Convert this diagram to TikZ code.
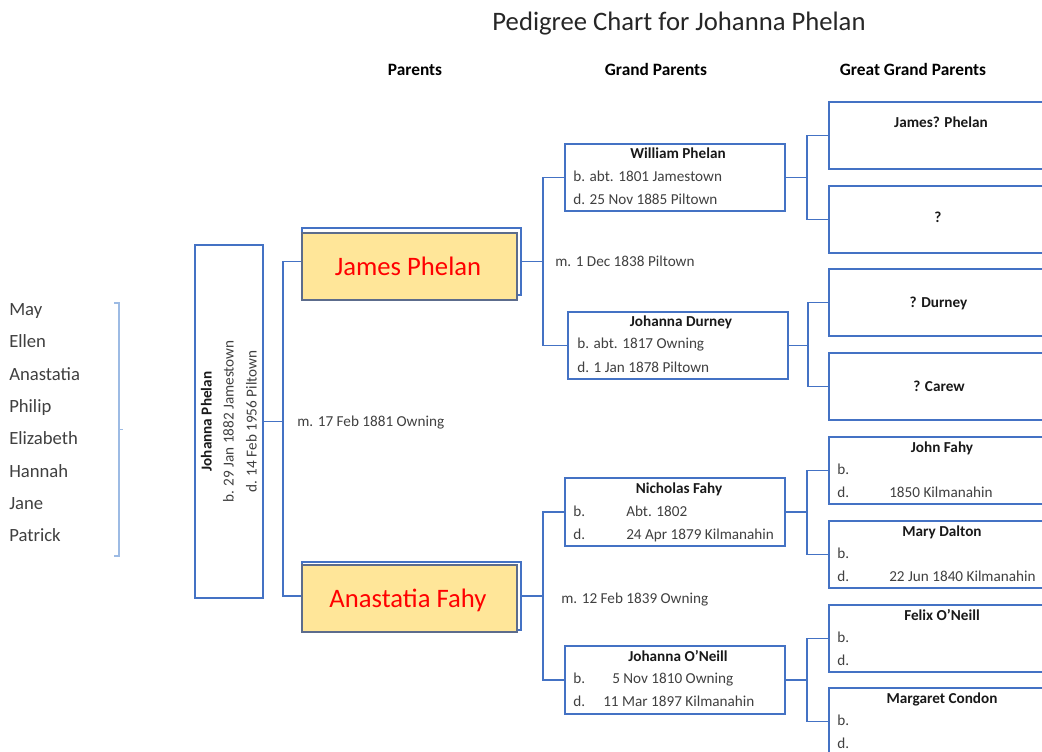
\documentclass[tikz,border=0pt]{standalone}
\usepackage{fontspec}
\setmainfont{Carlito}
\usepackage{tikz}
\usetikzlibrary{fit,positioning}
\definecolor{chartblue}{RGB}{68,114,196}
\definecolor{braceblue}{RGB}{157,187,228}
\definecolor{cardgold}{RGB}{255,230,153}
\definecolor{cardedge}{RGB}{92,108,140}
\definecolor{txtgray}{RGB}{64,64,64}

\begin{document}
\begin{tikzpicture}
  [x=0.75pt,y=-0.75pt,
    every node/.style={inner sep=0pt,text=txtgray,font=\fontsize{11.4}{13}\selectfont,
                       text height=6.8pt,text depth=0pt},
    line/.style={draw=chartblue,line width=1.1pt},
    box/.style={rectangle,draw=chartblue,line width=1.1pt},
    card/.style={rectangle,draw=cardedge,fill=cardgold,line width=1.1pt},
    who/.style={text=black!90,font=\fontsize{11.4}{13}\selectfont\bfseries},
    head/.style={text=black,font=\fontsize{13}{15}\selectfont\bfseries,text height=7.8pt},
    sibling/.style={anchor=west,font=\fontsize{14}{16}\selectfont,text height=8.4pt},
    redname/.style={text=red,font=\fontsize{20}{24}\selectfont,text height=12pt}]
  \useasboundingbox (0,0) rectangle (1042,751);
  \fill[white] (0,0) rectangle (1042,751);
  \clip (0,0) rectangle (1042,751);

  % title and column heads
  \node[text=black!85,font=\fontsize{20}{24}\selectfont,text height=12pt] (title) at (679,22) {Pedigree Chart for Johanna Phelan};
  \node[head] (hparents) at (415,70) {Parents};
  \node[head] (hgrand) at (656,70) {Grand Parents};
  \node[head] (hgreat) at (913,70) {Great Grand Parents};

  % brothers and sisters
  \foreach \sib [count=\i from 0] in {May,Ellen,Anastatia,Philip,Elizabeth,Hannah,Jane,Patrick}
    \node[sibling] (sib\i) at (9,310+32.3*\i) {\sib};
  \draw[draw=braceblue,line width=0.8pt] (114,303) -- (119,303) -- (119,556) -- (114,556);
  \draw[draw=braceblue,line width=0.8pt] (119,429.5) -- (123,429.5);

  % Johanna
  \node[box,fit={(195,245) (263,598)}] (johanna) {};
  \node[who,rotate=90] (johanna-n) at (207,421.5) {Johanna Phelan};
  \node[rotate=90] (johanna-b) at (229,421.5) {b. 29 Jan 1882 Jamestown};
  \node[rotate=90] (johanna-d) at (252,421.5) {d. 14 Feb 1956 Piltown};
  \node[anchor=west] (m0) at (297,422) {m. 17 Feb 1881 Owning};

  % parents
  \node[box,fit={(302,228) (521,295)}] (jphelan) {};
  \node[card,fit={(302,233) (517,300)}] (jphelan-card) {};
  \node[redname] (jphelan-n) at (408,267) {James Phelan};
  \node[box,fit={(302,562) (521,630)}] (afahy) {};
  \node[card,fit={(302,565) (517,632)}] (afahy-card) {};
  \node[redname] (afahy-n) at (408,599) {Anastatia Fahy};

  % grand parents
  \node[box,fit={(565,144) (785,211)}] (wphelan) {};
  \node[who] (wphelan-n) at (678,154) {William Phelan};
  \node[anchor=west] (wphelan-b) at (573,177) {b. abt. 1801 Jamestown};
  \node[anchor=west] (wphelan-d) at (573,200) {d. 25 Nov 1885 Piltown};
  \node[anchor=west] (m1) at (555,262) {m. 1 Dec 1838 Piltown};
  \node[box,fit={(568,312) (788,379)}] (jdurney) {};
  \node[who] (jdurney-n) at (681,322) {Johanna Durney};
  \node[anchor=west] (jdurney-b) at (577,344) {b. abt. 1817 Owning};
  \node[anchor=west] (jdurney-d) at (577,368) {d. 1 Jan 1878 Piltown};

  \node[box,fit={(565,478) (785,546)}] (nfahy) {};
  \node[who] (nfahy-n) at (679,489) {Nicholas Fahy};
  \node[anchor=west] (nfahy-b) at (573,512) {b.};
  \node[anchor=west] (nfahy-bd) at (626,512) {Abt. 1802};
  \node[anchor=west] (nfahy-d) at (573,535) {d.};
  \node[anchor=west] (nfahy-dd) at (626,535) {24 Apr 1879 Kilmanahin};
  \node[anchor=west] (m2) at (561,599) {m. 12 Feb 1839 Owning};
  \node[box,fit={(565,646) (785,714)}] (joneill) {};
  \node[who] (joneill-n) at (678,657) {Johanna O'Neill};
  \node[anchor=west] (joneill-b) at (573,679) {b.};
  \node[anchor=west] (joneill-bd) at (612,679) {5 Nov 1810 Owning};
  \node[anchor=west] (joneill-d) at (573,702) {d.};
  \node[anchor=west] (joneill-dd) at (603,702) {11 Mar 1897 Kilmanahin};

  % great grand parents
  \foreach \ggp/\top in {jamesq/102,unknown/186,qdurney/269,qcarew/353,
      jfahy/437,mdalton/521,foneill/605,mcondon/688}
    \node[box,fit={(829,\top) (1050,\top+67)}] (\ggp) {};
  \node[who] (jamesq-n) at (941,123) {James? Phelan};
  \node[who] (unknown-n) at (938,218) {?};
  \node[who] (qdurney-n) at (938.5,303) {? Durney};
  \node[who] (qcarew-n) at (939,387) {? Carew};
  \foreach \ggp/\top/\nm in {jfahy/437/John Fahy,mdalton/521/Mary Dalton,
      foneill/605/Felix O'Neill,mcondon/688/Margaret Condon}
  {
    \node[who] (\ggp-n) at (942,\top+11) {\nm};
    \node[anchor=west] (\ggp-b) at (837,\top+33) {b.};
    \node[anchor=west] (\ggp-d) at (837,\top+56) {d.};
  }
  \node[anchor=west] (jfahy-dd) at (889,493) {1850 Kilmanahin};
  \node[anchor=west] (mdalton-dd) at (889,577) {22 Jun 1840 Kilmanahin};

  % connectors
  \coordinate (fork0) at (283,421.5);
  \coordinate (fork1) at (543,261.5);
  \coordinate (fork2) at (807,177.5);
  \coordinate (fork3) at (808,345.5);
  \coordinate (fork4) at (543,596);
  \coordinate (fork5) at (807,512);
  \coordinate (fork6) at (807,680);
  \foreach \from/\fork/\to in {johanna/fork0/jphelan,johanna/fork0/afahy,
      jphelan/fork1/wphelan,jphelan/fork1/jdurney,afahy/fork4/nfahy,afahy/fork4/joneill,
      wphelan/fork2/jamesq,wphelan/fork2/unknown,jdurney/fork3/qdurney,jdurney/fork3/qcarew,
      nfahy/fork5/jfahy,nfahy/fork5/mdalton,joneill/fork6/foneill,joneill/fork6/mcondon}
    \draw[line] (\from.east) -- (\fork) |- (\to.west);
\end{tikzpicture}
\end{document}
